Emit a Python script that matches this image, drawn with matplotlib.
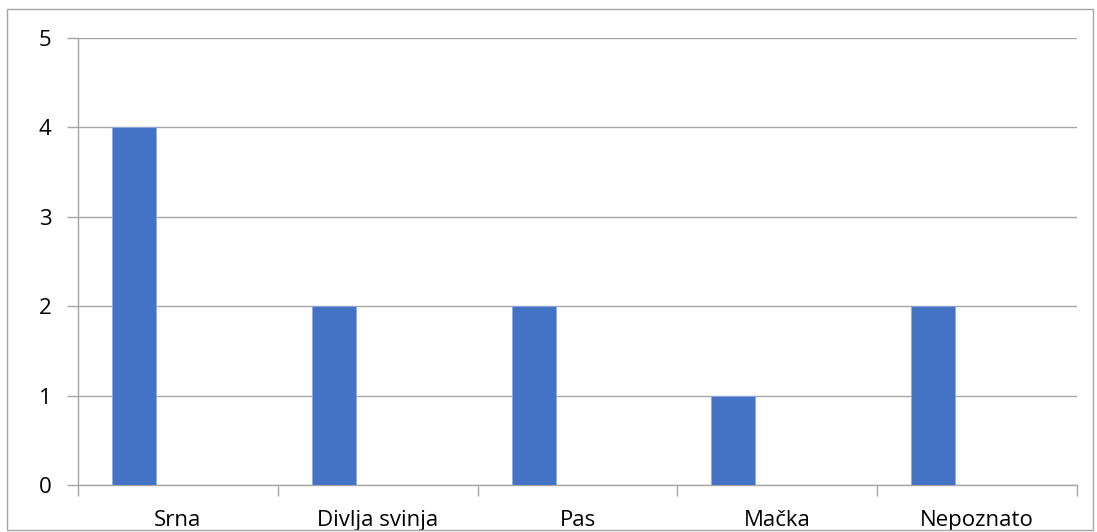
import matplotlib.pyplot as plt
import numpy as np
from matplotlib.patches import Rectangle

categories = ["Srna", "Divlja svinja", "Pas", "Mačka", "Nepoznato"]
values = [4, 2, 2, 1, 2]

plt.rcParams['font.family'] = ['Open Sans', 'DejaVu Sans']

fig = plt.figure(figsize=(10.97, 5.32), dpi=100)
ax = fig.add_axes([78 / 1097, 1 - 485 / 532, (1077 - 78) / 1097, (485 - 38) / 532])

x = np.arange(len(categories))
ax.bar(x - 0.22, values, width=0.22, color='#4472C4', edgecolor='#8FAADC', linewidth=0.6, zorder=3)

ax.set_xlim(-0.5, len(categories) - 0.5)
ax.set_ylim(0, 5)
ax.set_yticks(range(6))
ax.yaxis.grid(True, color='#A6A6A6', linewidth=1.0, zorder=0)

# category boundaries carry the tick marks, labels sit in the middle
ax.set_xticks(np.arange(len(categories) + 1) - 0.5)
ax.set_xticklabels([])
ax.set_xticks(x, minor=True)
ax.set_xticklabels(categories, minor=True)
ax.tick_params(axis='x', which='major', length=8, color='#A6A6A6', width=1)
ax.tick_params(axis='x', which='minor', length=0, pad=18, labelsize=16, colors='black')
ax.tick_params(axis='y', length=8, color='#A6A6A6', width=1, labelsize=16, pad=11, labelcolor='black')

for s in ['top', 'right']:
    ax.spines[s].set_visible(False)
for s in ['left', 'bottom']:
    ax.spines[s].set_color('#A6A6A6')
    ax.spines[s].set_linewidth(1.0)

# outer chart border
fig.patches.append(Rectangle((7 / 1097, 2 / 532), 1086 / 1097, 521 / 532, transform=fig.transFigure,
                             fill=False, edgecolor='#A6A6A6', linewidth=1.0))

plt.savefig('out.png', dpi=100)
plt.close()
